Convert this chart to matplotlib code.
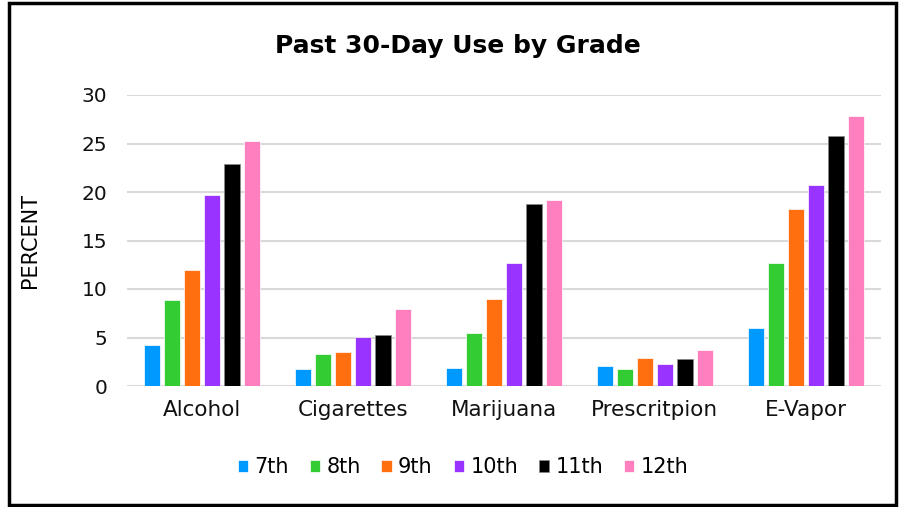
import matplotlib.pyplot as plt
import numpy as np
from matplotlib.patches import Rectangle

categories = ["Alcohol", "Cigarettes", "Marijuana", "Prescritpion", "E-Vapor"]
grades = ["7th", "8th", "9th", "10th", "11th", "12th"]
colors = ["#0099FF", "#33CC33", "#FF6F0F", "#9933FF", "#000000", "#FF7FBF"]

g7 = [4.2, 1.8, 1.9, 2.1, 6.0]
g8 = [8.9, 3.3, 5.5, 1.8, 12.7]
g9 = [12.0, 3.5, 9.0, 2.9, 18.2]
g10 = [19.7, 5.1, 12.7, 2.3, 20.7]
g11 = [22.9, 5.3, 18.8, 2.8, 25.8]
g12 = [25.3, 7.9, 19.2, 3.7, 27.8]
series = [g7, g8, g9, g10, g11, g12]

plt.rcParams['font.family'] = ['DejaVu Sans']

fig = plt.figure(figsize=(8.99, 5.07), dpi=100)
ax = fig.add_axes([127/899, 1-386/507, 754/899, 291/507])

x = np.arange(len(categories))
step = 0.1327
width = 0.106
for i, (vals, c) in enumerate(zip(series, colors)):
    edge = "#888888" if c == "#000000" else "white"
    ax.bar(x + (i - 2.5) * step, vals, width, color=c, edgecolor=edge,
           linewidth=0.5, label=grades[i], zorder=3)

ax.set_xlim(-0.5, 4.5)
ax.set_ylim(0, 30)
ax.set_yticks(range(0, 31, 5))
ax.yaxis.grid(True, color="#d9d9d9", linewidth=1.5, zorder=0)
ax.set_axisbelow(True)
for s in ax.spines.values():
    s.set_visible(False)
ax.tick_params(length=0, labelsize=14.5, colors="#111111")
ax.tick_params(axis='y', pad=14)
ax.tick_params(axis='x', pad=10)
ax.set_xticks(x)
ax.set_xticklabels(categories, fontsize=15.5)
ax.set_ylabel("PERCENT", fontsize=15, labelpad=30)

fig.text(458/899, 1-46/507, "Past 30-Day Use by Grade", ha="center", va="center",
         fontsize=18, fontweight="bold")

leg = fig.legend(loc="center", bbox_to_anchor=(463/899, 1-467/507), ncol=6,
                 frameon=False, fontsize=15, handlelength=0.5, handleheight=0.5,
                 handletextpad=0.3, columnspacing=1.0)

fig.patches.append(Rectangle((9/899, 2/507), 887/899, 502/507, transform=fig.transFigure,
                             fill=False, edgecolor="black", linewidth=2.5))

fig.savefig("out.png", dpi=100)
